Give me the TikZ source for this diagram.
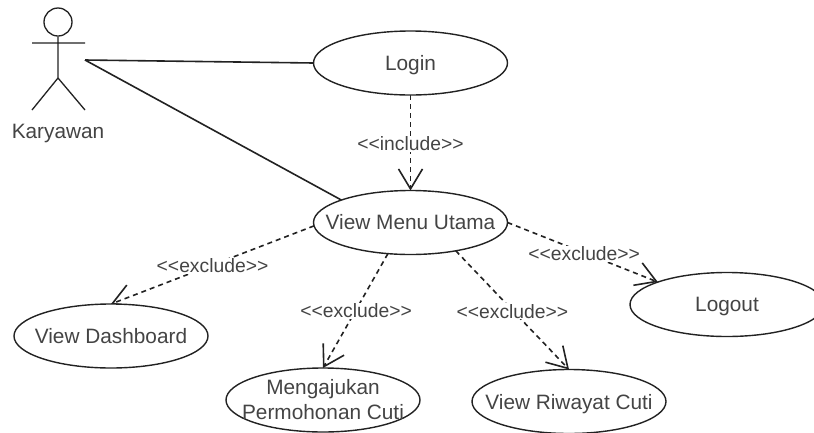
\documentclass[tikz,border=0pt]{standalone}
\usepackage{fontspec}
\setmainfont{Liberation Sans}
\usetikzlibrary{shapes.geometric,arrows.meta,backgrounds}
\definecolor{ink}{HTML}{222222}
\definecolor{txt}{HTML}{444444}
\tikzset{
  usecase/.style={ellipse,draw=ink,line width=1.4pt,fill=white,inner xsep=-60pt,inner ysep=-22pt,outer sep=0pt,align=center,font=\fontsize{20.8}{25}\selectfont,text=txt,minimum width=194,minimum height=64},
  solidlink/.style={draw=ink,line width=1.6pt},
  deplink/.style={draw=ink,line width=1.6pt,dash pattern=on 5pt off 4pt,-{Straight Barb[length=20pt,width=24pt,line width=1.6pt]}},
  deplabel/.style={fill=white,inner sep=1pt,yshift=-1pt,font=\fontsize{19.3}{22}\selectfont,text=txt},
  actorline/.style={draw=ink,line width=1.3pt}
}
\newcommand{\stereo}[1]{{<}{<}#1{>}{>}}
\begin{document}
\begin{tikzpicture}[x=1pt,y=-1pt]
\useasboundingbox (0,0) rectangle (814,432);
% actor
\node[circle,draw=ink,line width=1.3pt,minimum size=28,inner sep=0pt] (head) at (58,22) {};
\coordinate (armL) at (32,43);
\coordinate (armR) at (85,43);
\coordinate (hip) at (58,78);
\coordinate (legL) at (32,110);
\coordinate (legR) at (85,110);
\coordinate (actorEnd) at (85,60);
\draw[actorline] (head.south) -- (hip) (armL) -- (armR) (legL) -- (hip) -- (legR);
\node[font=\fontsize{20.8}{24}\selectfont,text=txt] (actorLabel) at (58,133) {Karyawan};
% use cases
\node[usecase,text depth=0pt] (login) at (410.5,63) {Login};
\node[usecase] (menu) at (410.5,222.5) {View Menu Utama};
\node[usecase] (dash) at (111,336) {View Dashboard};
\node[usecase] (aju) at (323,400) {Mengajukan\\Permohonan Cuti};
\node[usecase,text depth=0pt] (riwayat) at (569,401.5) {View Riwayat Cuti};
\node[usecase,text depth=0pt] (logout) at (727,304.5) {Logout};
% connectors
\begin{scope}[on background layer]
\fill[white] (0,0) rectangle (814,432);
\draw[solidlink] (actorEnd) -- (login.west);
\draw[solidlink] (actorEnd) -- (menu.162.6);
\draw[deplink] (login.south) -- (menu.north) node[deplabel,pos=.5] (l1) {\stereo{include}};
\draw[deplink] (menu.182) -- (dash.90) node[deplabel,pos=.5] (l2) {\stereo{exclude}};
\draw[deplink] (menu.234.8) -- (aju.north) node[deplabel,pos=.49] (l3) {\stereo{exclude}};
\draw[deplink] (menu.328.5) -- (riwayat.north) node[deplabel,pos=.5] (l4) {\stereo{exclude}};
\draw[deplink] (menu.east) -- (logout.162.6) node[deplabel,pos=.51] (l5) {\stereo{exclude}};
\end{scope}
\end{tikzpicture}
\end{document}
